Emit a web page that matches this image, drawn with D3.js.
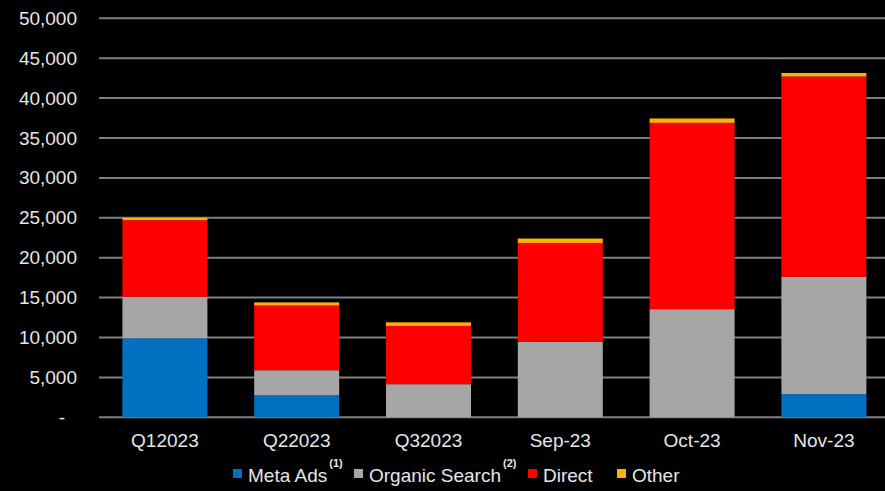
<!DOCTYPE html>
<html>
<head>
<meta charset="utf-8">
<script src="https://cdn.jsdelivr.net/npm/d3@7"></script>
<style>
  body { margin: 0; background: #000; }
  svg { display: block; }
</style>
</head>
<body>
<div id="chart"></div>
<script>
// chart values
var categories = ["Q12023", "Q22023", "Q32023", "Sep-23", "Oct-23", "Nov-23"];
var metaAds = [9900, 2750, 0, 0, 0, 2900];
var organicSearch = [5200, 3150, 4150, 9450, 13550, 14700];
var direct = [9600, 8100, 7300, 12400, 23350, 25100];
var other = [300, 400, 450, 550, 550, 450];
var yTicks = [0, 5000, 10000, 15000, 20000, 25000, 30000, 35000, 40000, 45000, 50000];
var seriesNames = ["Meta Ads", "Organic Search", "Direct", "Other"];
var seriesKeys = ["meta", "organic", "direct", "other"];
var seriesNotes = ["(1)", "(2)", "", ""];

var svgWidth = 885;
var svgHeight = 491;

var colors = {
    meta: "#0070C0",
    organic: "#A6A6A6",
    direct: "#FF0000",
    other: "#FFB000"
};

// build rows for the stack layout
var rows = categories.map(function(c, i) {
    return {
        cat: c,
        meta: metaAds[i],
        organic: organicSearch[i],
        direct: direct[i],
        other: other[i]
    };
});

var svg = d3.select("#chart")
    .append("svg")
    .attr("width", svgWidth)
    .attr("height", svgHeight)
    .style("font-family", "'Liberation Sans', Arial, sans-serif");

svg.append("rect")
    .attr("width", svgWidth)
    .attr("height", svgHeight)
    .attr("fill", "#000");

// scales
var xScale = d3.scaleBand()
    .domain(categories)
    .range([99, 99 + 6 * 131.8])
    .paddingInner(0.355)
    .paddingOuter(0.1775);

var yScale = d3.scaleLinear()
    .domain([0, 50000])
    .range([417.3, 18.3]);

// gridlines
svg.append("g")
    .selectAll("line")
    .data(yTicks)
    .enter()
    .append("line")
    .attr("x1", 99)
    .attr("x2", svgWidth)
    .attr("y1", d => yScale(d))
    .attr("y2", d => yScale(d))
    .attr("stroke", "#808080")
    .attr("stroke-width", 2);

// y axis labels
var yAxis = d3.axisLeft(yScale)
    .tickValues(yTicks)
    .tickSize(0)
    .tickPadding(0)
    .tickFormat(d => d === 0 ? "-" : d3.format(",")(d));

var yAxisG = svg.append("g")
    .attr("transform", "translate(77,0)")
    .call(yAxis);
yAxisG.select(".domain").remove();
yAxisG.selectAll("text")
    .attr("fill", "#e6e6e6")
    .style("font-size", "19px")
    .style("font-family", "'Liberation Sans', Arial, sans-serif")
    .attr("dy", "0.32em");
yAxisG.selectAll("text").filter(d => d === 0).attr("x", -12);

// stacked bars
var stack = d3.stack().keys(seriesKeys);
var stacked = stack(rows);

svg.append("g")
    .selectAll("g")
    .data(stacked)
    .enter()
    .append("g")
    .attr("fill", d => colors[d.key])
    .selectAll("rect")
    .data(d => d)
    .enter()
    .append("rect")
    .attr("x", d => xScale(d.data.cat))
    .attr("width", xScale.bandwidth())
    .attr("y", d => yScale(d[1]))
    .attr("height", d => yScale(d[0]) - yScale(d[1]));

// x axis labels
var xAxis = d3.axisBottom(xScale).tickSize(0).tickPadding(0);
var xAxisG = svg.append("g")
    .attr("transform", "translate(0,447)")
    .call(xAxis);
xAxisG.select(".domain").remove();
xAxisG.selectAll("text")
    .attr("fill", "#e6e6e6")
    .attr("y", 0)
    .attr("dy", 0)
    .style("font-size", "19px")
    .style("font-family", "'Liberation Sans', Arial, sans-serif");

// legend
var legendX = [233, 354, 528, 617];
var legend = svg.append("g");
seriesKeys.forEach(function(k, i) {
    var g = legend.append("g").attr("transform", `translate(${legendX[i]},0)`);
    g.append("rect")
        .attr("x", 0)
        .attr("y", 469)
        .attr("width", 9)
        .attr("height", 9)
        .attr("fill", colors[k]);
    var t = g.append("text")
        .attr("x", 15)
        .attr("y", 482)
        .attr("fill", "#e6e6e6")
        .style("font-size", "19px")
        .text(seriesNames[i]);
    if (seriesNotes[i]) {
        var w = t.node().getComputedTextLength();
        g.append("text")
            .attr("x", 15 + w + 2)
            .attr("y", 467)
            .attr("fill", "#e6e6e6")
            .style("font-size", "11px")
            .style("font-weight", "bold")
            .text(seriesNotes[i]);
    }
});
</script>
</body>
</html>
